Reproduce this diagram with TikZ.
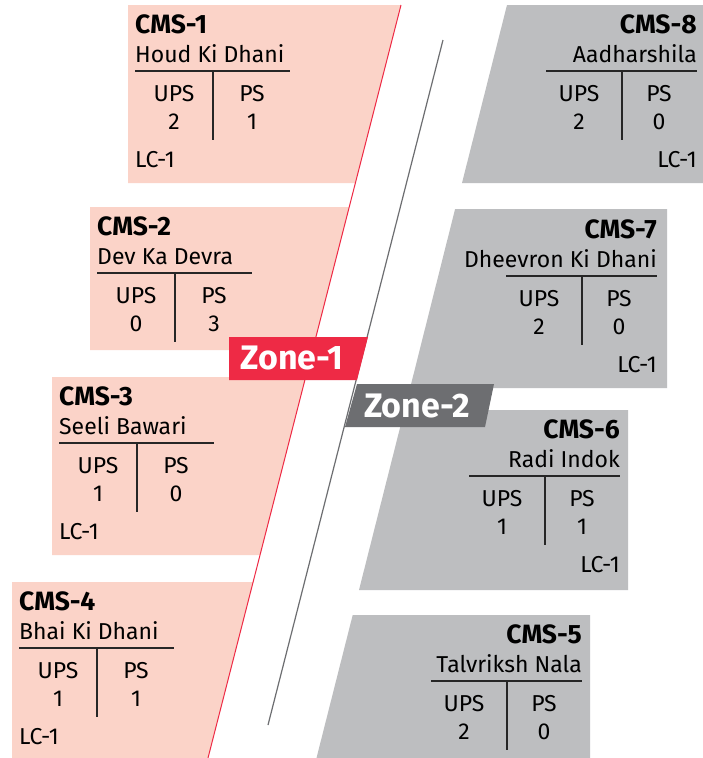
\documentclass[tikz,border=0pt]{standalone}
\usepackage{fontspec}
\setmainfont{Fira Sans}
\definecolor{pinkc}{HTML}{FBD3C8}
\definecolor{grayc}{HTML}{BDBEC0}
\definecolor{redc}{HTML}{EE2A45}
\definecolor{dgray}{HTML}{6D6E71}
\tikzset{
  txt/.style={inner sep=0pt, font=\fontsize{23}{23}\selectfont, text=black},
  ttl/.style={txt, font=\fontsize{26.5}{26.5}\selectfont\bfseries},
  zonet/.style={inner sep=0pt, font=\fontsize{34}{34}\selectfont\bfseries, text=white},
  tabline/.style={line width=1.2pt, draw=black!85},
  pinkpanel/.style={fill=pinkc, draw=none},
  graypanel/.style={fill=grayc, draw=none},
}
% left (pink) panel text: #1 id, #2 X, #3 top, #4 title, #5 name, #6 ups, #7 ps
\newcommand{\leftcms}[7]{%
  \node[ttl, anchor=base west] (#1t) at ({#2},{#3+28}) {#4};
  \node[txt, anchor=base west] (#1n) at ({#2},{#3+57}) {#5};
  \draw[tabline] ({#2},{#3+66}) -- ++(155,0);
  \draw[tabline] ({#2+78},{#3+66}) -- ++(0,69);
  \node[txt, anchor=base] (#1u) at ({#2+39},{#3+96}) {UPS};
  \node[txt, anchor=base] (#1p) at ({#2+117},{#3+96}) {PS};
  \node[txt, anchor=base] (#1uv) at ({#2+39},{#3+124}) {#6};
  \node[txt, anchor=base] (#1pv) at ({#2+117},{#3+124}) {#7};
}
% right (gray) panel text: #1 id, #2 E (right text edge), #3 top, #4 title, #5 name, #6 ups, #7 ps
\newcommand{\rightcms}[7]{%
  \node[ttl, anchor=base east] (#1t) at ({#2},{#3+28}) {#4};
  \node[txt, anchor=base east] (#1n) at ({#2},{#3+57}) {#5};
  \draw[tabline] ({#2-151},{#3+66}) -- ({#2},{#3+66});
  \draw[tabline] ({#2-75},{#3+66}) -- ++(0,69);
  \node[txt, anchor=base] (#1u) at ({#2-118},{#3+96}) {UPS};
  \node[txt, anchor=base] (#1p) at ({#2-38},{#3+96}) {PS};
  \node[txt, anchor=base] (#1uv) at ({#2-118},{#3+124}) {#6};
  \node[txt, anchor=base] (#1pv) at ({#2-38},{#3+124}) {#7};
}
\begin{document}
\begin{tikzpicture}[x=1pt,y=-1pt]
\useasboundingbox (0,0) rectangle (703,758);
\fill[white] (0,0) rectangle (703,758);
% pink panels
\fill[pinkpanel] (128,5) -- (401,5) -- (355.4,183) -- (128,183) -- cycle;
\fill[pinkpanel] (90,207) -- (349.2,207) -- (312.6,350) -- (90,350) -- cycle;
\fill[pinkpanel] (52,377) -- (305.7,377) -- (260,555) -- (52,555) -- cycle;
\fill[pinkpanel] (12,582) -- (253.1,582) -- (208,758) -- (12,758) -- cycle;
% gray panels
\fill[graypanel] (507,5) -- (703,5) -- (703,183) -- (462,183) -- cycle;
\fill[graypanel] (455.1,209) -- (667,209) -- (667,388) -- (410.1,388) -- cycle;
\fill[graypanel] (404.5,410) -- (628,410) -- (628,590) -- (359,590) -- cycle;
\fill[graypanel] (352.7,615) -- (590,615) -- (590,758) -- (316.5,758) -- cycle;
% red edge line and divider line
\coordinate (r1) at (401,5);
\coordinate (r2) at (208,758);
\draw[redc, line width=1pt] (r1) -- (r2);
\coordinate (d1) at (443,40);
\coordinate (d2) at (268,725);
\draw[dgray, line width=1.2pt] (d1) -- (d2);
% zone labels
\fill[redc] (229,337) -- (368,337) -- (357,380) -- (229,380) -- cycle;
\node[zonet, anchor=base] (zone1) at (292,369) {Zone-1};
\fill[dgray] (357,384) -- (494,384) -- (485,427) -- (345,427) -- cycle;
\node[zonet, anchor=base] (zone2) at (417,417) {Zone-2};
% left panels
\leftcms{cmsa}{135}{5}{CMS-1}{Houd Ki Dhani}{2}{1}
\node[txt, anchor=base west] (cmsalc) at (135,167) {LC-1};
\leftcms{cmsb}{97}{207}{CMS-2}{Dev Ka Devra}{0}{3}
\leftcms{cmsc}{59}{377}{CMS-3}{Seeli Bawari}{1}{0}
\node[txt, anchor=base west] (cmsclc) at (59,539) {LC-1};
\leftcms{cmsd}{19}{582}{CMS-4}{Bhai Ki Dhani}{1}{1}
\node[txt, anchor=base west] (cmsdlc) at (19,744) {LC-1};
% right panels
\rightcms{cmsh}{697}{5}{CMS-8}{Aadharshila}{2}{0}
\node[txt, anchor=base east] (cmshlc) at (697,167) {LC-1};
\rightcms{cmsg}{657}{210}{CMS-7}{Dheevron Ki Dhani}{2}{0}
\node[txt, anchor=base east] (cmsglc) at (657,372) {LC-1};
\rightcms{cmsf}{620}{410}{CMS-6}{Radi Indok}{1}{1}
\node[txt, anchor=base east] (cmsflc) at (620,572) {LC-1};
\rightcms{cmse}{582}{615}{CMS-5}{Talvriksh Nala}{2}{0}
\end{tikzpicture}
\end{document}
